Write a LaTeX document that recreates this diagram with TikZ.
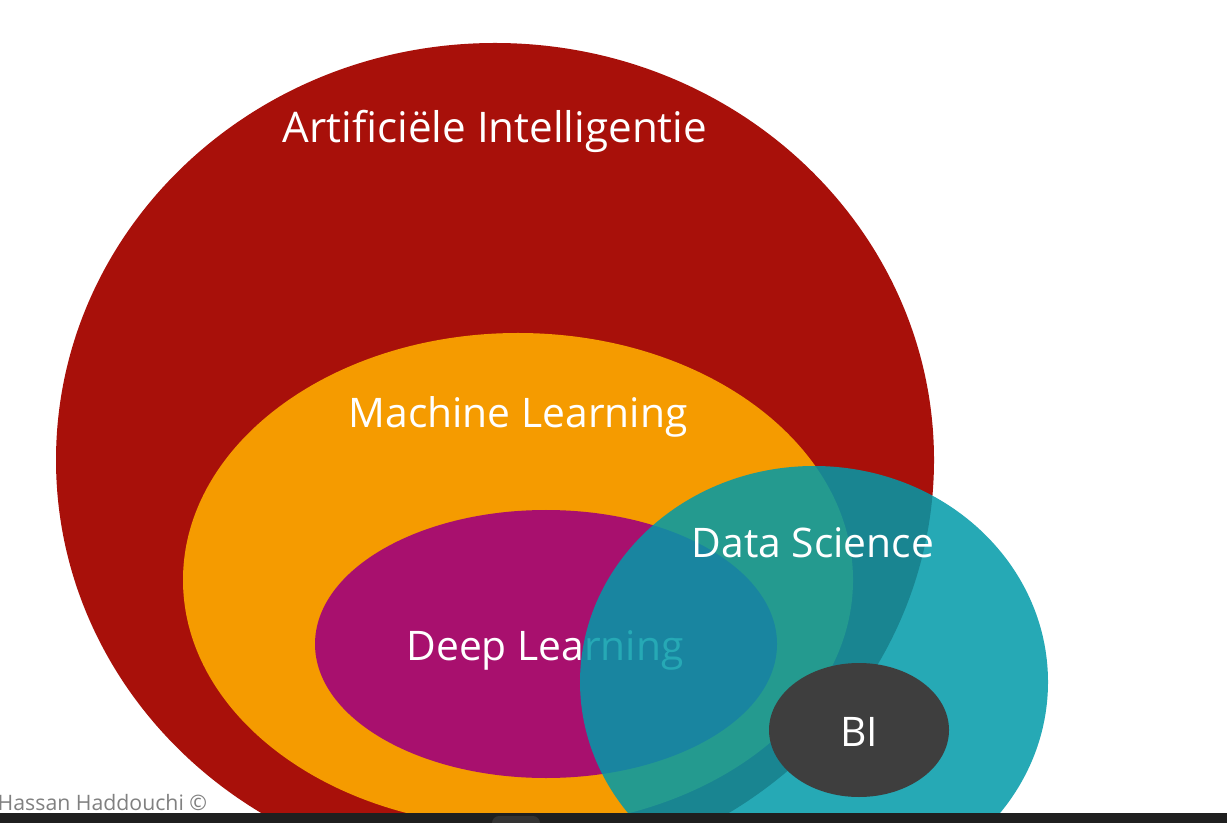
\documentclass[tikz,border=0pt]{standalone}
\usepackage{fontspec}
\setmainfont{Open Sans}
\definecolor{aired}{RGB}{168,16,10}
\definecolor{mlorange}{RGB}{245,155,0}
\definecolor{dlpurple}{RGB}{168,16,110}
\definecolor{dsteal}{RGB}{0,154,169}
\definecolor{bigray}{RGB}{62,62,62}
\definecolor{barblack}{RGB}{31,31,31}
\begin{document}
\begin{tikzpicture}[x=0.1mm, y=-0.1mm,
    lbl/.style={text=white, anchor=base, inner sep=0pt, font=\fontsize{11.6}{13}\selectfont}]
    \useasboundingbox (0,0) rectangle (1227,823);
    \clip (0,0) rectangle (1227,823);
    \fill[white] (0,0) rectangle (1227,823);
    % the sets, from the outside in
    \fill[aired] (495,460) ellipse [x radius=439, y radius=417];
    \fill[mlorange] (518,580) ellipse [x radius=335, y radius=247];
    \fill[dlpurple] (546,644) ellipse [x radius=231, y radius=134];
    \node[lbl, font=\fontsize{12}{14}\selectfont] (ai) at (495,143) {Artificiële Intelligentie};
    \node[lbl] (ml) at (518,428) {Machine Learning};
    \node[lbl] (dl) at (545,660) {Deep Learning};
    \fill[dsteal, fill opacity=0.85] (814,682) ellipse [x radius=234, y radius=216];
    \node[lbl] (ds) at (813,557) {Data Science};
    \fill[bigray] (859,730) ellipse [x radius=90, y radius=67];
    \node[lbl] (bi) at (859,746) {BI};
    % footer
    \node[anchor=base west, inner sep=0pt, text=black!50, font=\fontsize{6.05}{8}\selectfont] (credit) at (-3,810) {Hassan Haddouchi ©};
    \fill[barblack] (0,813) rectangle (1227,823);
    \fill[black!80, rounded corners=2] (492,816) rectangle (540,830);
\end{tikzpicture}
\end{document}
